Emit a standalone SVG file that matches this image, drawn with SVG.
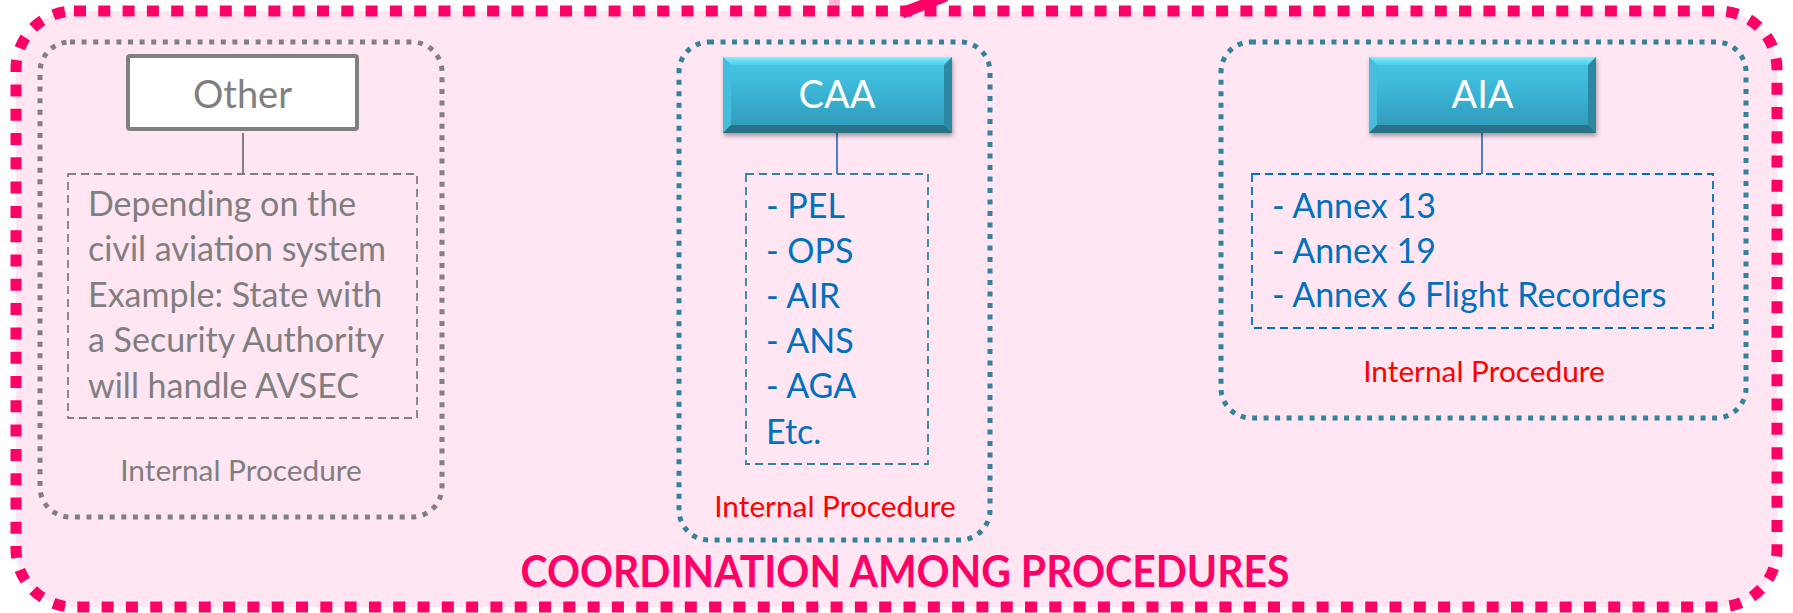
<svg xmlns="http://www.w3.org/2000/svg" width="1793" height="613" viewBox="0 0 1793 613">
<style>
.body{font-family:Lato,"Open Sans","Liberation Sans",sans-serif;font-size:34px}
.gray{fill:#7F7F7F}
.blue{fill:#0070C0}
.proc{font-family:Lato,"Open Sans","Liberation Sans",sans-serif;font-size:29.8px;text-anchor:middle}
.lbl{font-family:Lato,"Open Sans","Liberation Sans",sans-serif;font-size:38px;text-anchor:middle}
.dotG{fill:none;stroke:#808080;stroke-width:5;stroke-dasharray:5 6.6}
.dotT{fill:none;stroke:#31849B;stroke-width:5;stroke-dasharray:5 6.5}
.dash{fill:none;stroke-width:1.8;stroke-dasharray:8 5}
.conn{stroke-width:2;fill:none}
</style>
<defs>
<linearGradient id="teal" x1="0" y1="0" x2="0" y2="1">
<stop offset="0" stop-color="#48C9E6"/>
<stop offset="0.5" stop-color="#3AB2D4"/>
<stop offset="1" stop-color="#2F97B3"/>
</linearGradient>
<linearGradient id="topbev" x1="0" y1="0" x2="0" y2="1">
<stop offset="0" stop-color="#7CF3FF"/>
<stop offset="1" stop-color="#4CCBE8"/>
</linearGradient>
<filter id="shadow" x="-10%" y="-10%" width="120%" height="130%">
<feDropShadow dx="1" dy="3" stdDeviation="2" flood-color="#000" flood-opacity="0.35"/>
</filter>
</defs>
<rect x="0" y="0" width="1793" height="613" fill="#FFFFFF"/>
<g id="frame">
<rect x="829" y="0" width="11" height="12" fill="#FFB5D4"/>
<rect x="16" y="11" width="1761" height="596" rx="58" fill="#FFE6F2" stroke="#FF0066" stroke-width="11" stroke-dasharray="12 12.3"/>
</g>
<g id="connectors">
<line x1="902" y1="13" x2="946" y2="-4" stroke="#FF0066" stroke-width="11"/>
<line class="conn" x1="243" y1="133" x2="243" y2="174" stroke="#808080"/>
<line class="conn" x1="837" y1="133" x2="837" y2="174" stroke="#4F81BD"/>
<line class="conn" x1="1482" y1="133" x2="1482" y2="174" stroke="#4F81BD"/>
</g>
<g id="node-other">
<rect class="dotG" x="40" y="42" width="402" height="475" rx="30"/>
<rect x="128" y="56" width="229" height="73" fill="#FFFFFF" stroke="#808080" stroke-width="4" rx="2"/>
<text class="lbl gray" x="242.5" y="108">Other</text>
<rect class="dash" x="68" y="174" width="349" height="244" stroke="#808080"/>
<text class="body gray" x="88" y="216">Depending on the</text>
<text class="body gray" x="88" y="261">civil aviation system</text>
<text class="body gray" x="88" y="307">Example: State with</text>
<text class="body gray" x="88" y="352">a Security Authority</text>
<text class="body gray" x="88" y="398">will handle AVSEC</text>
<text class="proc gray" x="241" y="481">Internal Procedure</text>
</g>
<g id="node-caa">
<rect class="dotT" x="679" y="42" width="311" height="498" rx="30"/>
<g filter="url(#shadow)">
<rect x="723" y="57" width="229" height="76" fill="url(#teal)"/>
</g>
<polygon points="723,57 952,57 944,65 731,65" fill="url(#topbev)"/>
<polygon points="723,57 731,65 731,125 723,133" fill="#45BEDD"/>
<polygon points="952,57 944,65 944,125 952,133" fill="#2D89A3"/>
<polygon points="723,133 731,125 944,125 952,133" fill="#2A7288"/>
<text class="lbl" x="837" y="108" fill="#FFFFFF">CAA</text>
<rect class="dash" x="746" y="174" width="182" height="290" stroke="#31849B"/>
<text class="body blue" x="766" y="218">- PEL</text>
<text class="body blue" x="766" y="263">- OPS</text>
<text class="body blue" x="766" y="308">- AIR</text>
<text class="body blue" x="766" y="353">- ANS</text>
<text class="body blue" x="766" y="398">- AGA</text>
<text class="body blue" x="766" y="444">Etc.</text>
<text class="proc" x="835" y="517" fill="#FF0000">Internal Procedure</text>
</g>
<g id="node-aia">
<rect class="dotT" x="1221" y="42" width="525" height="376" rx="30"/>
<g filter="url(#shadow)">
<rect x="1369" y="57" width="227" height="76" fill="url(#teal)"/>
</g>
<polygon points="1369,57 1596,57 1588,65 1377,65" fill="url(#topbev)"/>
<polygon points="1369,57 1377,65 1377,125 1369,133" fill="#45BEDD"/>
<polygon points="1596,57 1588,65 1588,125 1596,133" fill="#2D89A3"/>
<polygon points="1369,133 1377,125 1588,125 1596,133" fill="#2A7288"/>
<text class="lbl" x="1482.5" y="108" fill="#FFFFFF">AIA</text>
<rect class="dash" x="1252" y="174" width="461" height="154" stroke="#0070C0"/>
<text class="body blue" x="1272" y="218">- Annex 13</text>
<text class="body blue" x="1272" y="263">- Annex 19</text>
<text class="body blue" x="1272" y="307">- Annex 6 Flight Recorders</text>
<text class="proc" x="1484" y="382" fill="#FF0000">Internal Procedure</text>
</g>
<text id="title" x="905" y="587" text-anchor="middle" font-family="Lato,'Open Sans','Liberation Sans',sans-serif" font-weight="bold" font-size="44" fill="#FF0066" textLength="769" lengthAdjust="spacingAndGlyphs">COORDINATION AMONG PROCEDURES</text>
</svg>
